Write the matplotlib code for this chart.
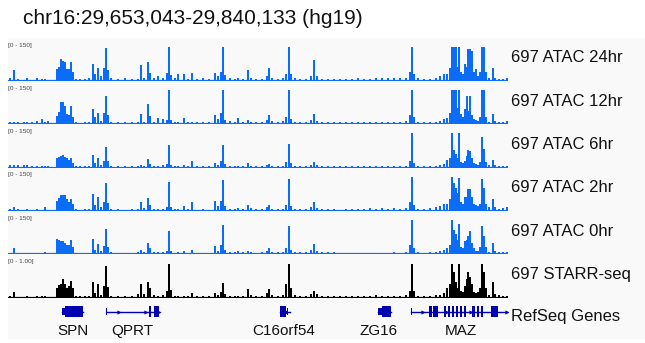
import numpy as np
import matplotlib.pyplot as plt

plt.rcParams['font.family'] = ['Liberation Sans', 'DejaVu Sans']

# region shown (hg19)
chrom = "chr16"
region_start = 29653043
region_end = 29840133

# bin positions, kb from region_start
pos_kb = [0.75, 2.25, 3.74, 5.99, 7.11, 8.98, 10.85, 12.72, 13.85, 14.97,
          18.34, 19.08, 19.83, 20.58, 21.33, 22.08, 22.83, 23.57, 24.32, 25.45,
          26.94, 28.81, 30.31, 31.81, 32.56, 33.68, 34.80, 35.92, 36.67, 37.42,
          38.54, 41.16, 43.78, 46.40, 48.65, 49.77, 50.89, 52.39, 53.14, 54.63,
          56.13, 58.00, 59.50, 60.25, 60.99, 62.49, 63.61, 65.86, 67.36, 68.85,
          70.72, 72.97, 75.21, 77.46, 78.58, 79.70, 80.45, 81.20, 83.07, 84.94,
          86.07, 87.94, 89.81, 90.93, 92.80, 95.05, 96.92, 97.67, 98.79, 101.04,
          102.91, 104.03, 105.15, 105.90, 107.40, 109.27, 111.52, 113.39, 114.51, 115.63,
          117.50, 119.75, 122.00, 124.24, 126.48, 128.72, 130.97, 133.22, 135.46, 137.71,
          139.95, 142.20, 144.44, 146.69, 148.93, 150.43, 151.18, 151.93, 153.42, 155.67,
          157.91, 160.16, 161.65, 163.15, 164.27, 165.40, 166.14, 166.89, 167.64, 168.20,
          168.76, 169.51, 170.26, 171.01, 171.76, 172.14, 172.88, 173.63, 174.38, 175.13,
          175.87, 176.62, 177.37, 178.12, 178.87, 179.99, 181.49, 182.24, 183.74, 185.23,
          186.73]

atac_24hr = [15, 48, 10, 6, 15, 6, 15, 8, 10, 6,
             51, 60, 96, 88, 81, 51, 51, 81, 40, 10,
             8, 10, 12, 74, 30, 59, 20, 55, 145, 50,
             12, 10, 12, 10, 10, 69, 12, 84, 35, 15,
             20, 15, 35, 150, 25, 12, 29, 29, 8, 34,
             8, 15, 8, 37, 20, 40, 151, 25, 12, 10,
             12, 10, 48, 15, 8, 10, 20, 56, 15, 10,
             15, 30, 150, 30, 12, 10, 10, 20, 93, 20,
             10, 8, 10, 8, 10, 8, 12, 10, 10, 12,
             15, 12, 15, 12, 15, 40, 150, 30, 12, 10,
             10, 15, 20, 29, 30, 59, 150, 150, 150, 60,
             147, 40, 30, 74, 60, 140, 140, 132, 40, 51,
             20, 40, 150, 150, 40, 15, 56, 15, 10, 10,
             12]

atac_12hr = [10, 12, 8, 10, 8, 8, 15, 22, 12, 15,
             37, 55, 96, 96, 80, 44, 40, 81, 30, 10,
             6, 8, 8, 69, 30, 49, 15, 50, 125, 40,
             10, 8, 8, 8, 10, 44, 12, 88, 35, 12,
             29, 25, 20, 150, 20, 10, 12, 29, 10, 12,
             8, 8, 8, 40, 25, 50, 151, 20, 15, 12,
             29, 12, 20, 12, 10, 12, 20, 40, 15, 10,
             15, 30, 151, 25, 12, 10, 10, 20, 44, 15,
             10, 12, 10, 8, 10, 8, 10, 10, 12, 10,
             12, 12, 12, 10, 15, 40, 151, 30, 10, 10,
             10, 12, 15, 25, 29, 51, 150, 150, 150, 70,
             151, 45, 30, 69, 125, 60, 125, 40, 25, 20,
             15, 30, 150, 150, 30, 12, 44, 15, 10, 12,
             15]

atac_6hr = [10, 12, 10, 10, 12, 6, 6, 6, 6, 5,
            40, 45, 51, 54, 45, 40, 35, 43, 20, 6,
            5, 5, 6, 54, 20, 40, 10, 30, 91, 30,
            8, 5, 6, 5, 5, 12, 6, 37, 15, 6,
            8, 12, 15, 98, 12, 6, 6, 10, 6, 28,
            5, 5, 5, 22, 10, 30, 98, 15, 8, 8,
            8, 8, 22, 8, 6, 8, 10, 15, 8, 6,
            8, 25, 104, 20, 8, 6, 6, 12, 25, 10,
            6, 6, 6, 5, 5, 5, 6, 5, 6, 5,
            6, 6, 6, 6, 8, 30, 150, 20, 6, 6,
            6, 8, 10, 15, 32, 40, 150, 76, 60, 40,
            150, 25, 20, 30, 50, 76, 72, 40, 20, 15,
            12, 25, 135, 80, 25, 10, 32, 10, 8, 6,
            8]

atac_2hr = [10, 18, 8, 6, 8, 5, 8, 6, 18, 6,
            44, 55, 69, 69, 69, 50, 40, 54, 30, 8,
            5, 8, 8, 76, 25, 62, 15, 40, 120, 35,
            10, 8, 6, 8, 10, 40, 12, 57, 25, 8,
            10, 10, 18, 128, 15, 8, 10, 22, 8, 37,
            6, 8, 6, 43, 20, 45, 135, 20, 10, 10,
            12, 8, 25, 12, 8, 8, 15, 25, 10, 8,
            10, 25, 138, 20, 10, 8, 10, 18, 40, 12,
            8, 8, 8, 6, 8, 8, 10, 8, 12, 10,
            12, 10, 12, 10, 12, 40, 150, 25, 10, 10,
            12, 15, 20, 30, 30, 50, 150, 120, 98, 80,
            143, 40, 30, 62, 60, 96, 96, 60, 30, 25,
            20, 30, 140, 100, 30, 15, 54, 15, 10, 12,
            15]

atac_0hr = [5, 29, 5, 4, 4, 4, 6, 6, 8, 5,
            68, 60, 56, 56, 50, 40, 40, 63, 30, 6,
            5, 5, 6, 68, 20, 44, 12, 35, 112, 30,
            8, 5, 6, 5, 8, 20, 8, 49, 25, 8,
            10, 10, 15, 103, 12, 6, 10, 12, 6, 18,
            5, 5, 5, 34, 15, 40, 129, 20, 8, 10,
            12, 8, 15, 8, 6, 8, 12, 26, 10, 8,
            10, 25, 122, 20, 10, 8, 8, 20, 44, 15,
            8, 8, 8, 6, 6, 5, 6, 5, 6, 6,
            6, 6, 8, 6, 10, 40, 150, 25, 8, 6,
            8, 10, 15, 20, 25, 40, 150, 107, 88, 60,
            132, 30, 25, 56, 60, 78, 100, 50, 25, 15,
            15, 30, 122, 80, 30, 10, 49, 12, 8, 8,
            10]

starr_seq = [0.03, 0.15, 0.02, 0.02, 0.03, 0.02, 0.04, 0.04, 0.04, 0.02,
             0.29, 0.37, 0.39, 0.54, 0.39, 0.29, 0.33, 0.49, 0.29, 0.05,
             0.03, 0.04, 0.05, 0.44, 0.13, 0.39, 0.07, 0.33, 0.93, 0.30,
             0.05, 0.04, 0.04, 0.04, 0.10, 0.39, 0.10, 0.44, 0.27, 0.07,
             0.05, 0.07, 0.19, 0.98, 0.23, 0.05, 0.03, 0.03, 0.03, 0.13,
             0.03, 0.03, 0.03, 0.13, 0.07, 0.17, 0.41, 0.10, 0.04, 0.03,
             0.05, 0.03, 0.25, 0.07, 0.03, 0.03, 0.13, 0.25, 0.07, 0.04,
             0.07, 0.40, 0.98, 0.27, 0.07, 0.04, 0.05, 0.10, 0.19, 0.10,
             0.04, 0.04, 0.05, 0.03, 0.04, 0.04, 0.05, 0.04, 0.05, 0.07,
             0.05, 0.05, 0.05, 0.04, 0.07, 0.20, 0.98, 0.20, 0.05, 0.04,
             0.05, 0.07, 0.08, 0.13, 0.29, 0.40, 0.98, 0.73, 0.44, 0.27,
             0.98, 0.20, 0.17, 0.34, 0.53, 0.73, 0.59, 0.40, 0.17, 0.13,
             0.17, 0.27, 0.98, 0.73, 0.27, 0.07, 0.44, 0.10, 0.07, 0.04,
             0.05]

track_names = ["697 ATAC 24hr", "697 ATAC 12hr", "697 ATAC 6hr",
               "697 ATAC 2hr", "697 ATAC 0hr", "697 STARR-seq"]
track_ranges = ["[0 - 150]"] * 5 + ["[0 - 1.00]"]
track_max = [150, 150, 150, 150, 150, 1.0]
track_floor = [5, 5, 4, 5, 4, 0.02]

# RefSeq genes: name, strand, label position (kb), exons (start kb, end kb, thick?)
gene_names = ["SPN", "QPRT", "C16orf54", "ZG16", "MAZ"]
gene_strand = ["-", "+", "-", "-", "+"]
gene_span = [(20.2, 28.1), (36.6, 56.5), (101.8, 105.5), (138.5, 143.3), (150.8, 186.7)]
gene_label_kb = [24.5, 46.4, 103.0, 138.5, 169.5]
gene_exons = [
    [(20.2, 21.4, 0), (21.4, 28.1, 1)],
    [(36.5, 37.0, 0), (52.7, 53.5, 1), (54.6, 56.5, 1)],
    [(101.8, 104.0, 1), (104.4, 104.9, 0)],
    [(138.5, 139.9, 0), (139.9, 143.3, 1)],
    [(150.8, 151.3, 0), (157.4, 158.8, 1), (159.0, 161.0, 1), (163.2, 164.0, 1),
     (164.7, 165.5, 1), (166.2, 167.0, 1), (167.7, 168.5, 1), (169.2, 170.0, 1),
     (170.7, 171.5, 1), (173.6, 174.6, 1), (175.5, 176.4, 1), (177.1, 177.9, 1),
     (180.6, 183.5, 1)],
]

tracks = [atac_24hr, atac_12hr, atac_6hr, atac_2hr, atac_0hr, starr_seq]
colors = ["#0b6cf7"] * 5 + ["#000000"]

W, H = 645, 343
fig = plt.figure(figsize=(W / 100, H / 100), dpi=100)

def fx(px):
    return px / W

def fy(py):
    return 1 - py / H

span_kb = (region_end - region_start) / 1000.0
left, right = 8, 508

# light grey IGV panel
bg = fig.add_axes([fx(8), fy(339), fx(W - 8), (339 - 38) / H])
bg.set_facecolor("#f9f9f9")
bg.set_xticks([])
bg.set_yticks([])
for s in bg.spines.values():
    s.set_visible(False)

fig.text(fx(23), fy(19), "%s:%s-%s (hg19)" % (chrom, format(region_start, ","), format(region_end, ",")),
         fontsize=15, va="center", ha="left", color="#111111")

track_h = 34.3
for i, vals in enumerate(tracks):
    base = 81 + 43.3 * i
    ax = fig.add_axes([fx(left), fy(base), fx(right - left), track_h / H])
    ax.patch.set_alpha(0)
    ymax = track_max[i]
    ax.fill_between([0, span_kb], 0, track_floor[i], color=colors[i], lw=0)
    ax.bar(pos_kb, np.minimum(vals, ymax), width=0.9, color=colors[i], lw=0)
    ax.axhline(0, color=colors[i], lw=1.6)
    ax.set_xlim(0, span_kb)
    ax.set_ylim(0, ymax)
    ax.axis("off")
    fig.text(fx(8), fy(base - 36), track_ranges[i], fontsize=4.6, color="#444444",
             ha="left", va="center")
    fig.text(fx(511), fy(base - 23), track_names[i], fontsize=12, color="#111111",
             ha="left", va="center")

# gene track
gx = fig.add_axes([fx(left), fy(343), fx(right - left), 43 / H])
gx.set_xlim(0, span_kb)
gx.set_ylim(343, 300)
gx.axis("off")
gcol = "#0000b2"
yc = 311.5
for name, strand, (g0, g1), lab, exons in zip(gene_names, gene_strand, gene_span,
                                              gene_label_kb, gene_exons):
    gx.plot([g0, g1], [yc, yc], color=gcol, lw=1)
    for e0, e1, thick in exons:
        hh = 5.5 if thick else 3.5
        gx.fill_between([e0, e1], yc - hh, yc + hh, color=gcol, lw=0)
    # strand chevrons along introns
    mark = ">" if strand == "+" else "<"
    n = max(1, int((g1 - g0) // 8))
    for k in range(n):
        xm = g0 + (g1 - g0) * (k + 0.5) / n
        gx.plot(xm, yc, marker=mark, color=gcol, ms=3, mew=0)
    if strand == "+":
        gx.plot(g1, yc, marker=">", color=gcol, ms=3, mew=0)
    gx.text(lab, 331, name, fontsize=11, color="#111111", ha="center", va="center")

fig.text(fx(511), fy(317), "RefSeq Genes", fontsize=12, color="#111111",
         ha="left", va="center")

plt.savefig("out.png", dpi=100)
